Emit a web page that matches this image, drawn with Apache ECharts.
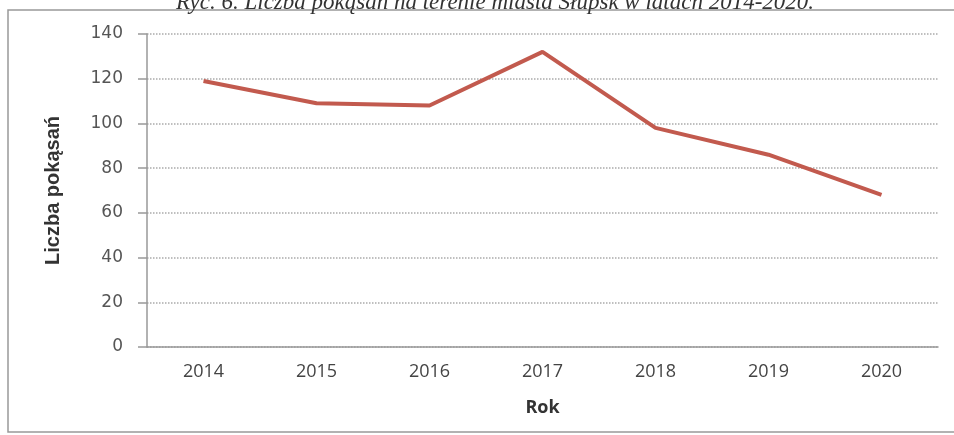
<!DOCTYPE html>
<html>
<head>
<meta charset="utf-8">
<script src="https://cdn.jsdelivr.net/npm/echarts@6/dist/echarts.min.js"></script>
<style>
  html, body { margin: 0; padding: 0; background: #fff; }
  #chart { width: 954px; height: 435px; }
</style>
</head>
<body>
<div id="chart"></div>
<script>
// dane z wykresu
const years = ['2014', '2015', '2016', '2017', '2018', '2019', '2020'];
const bites = [119, 109, 108, 132, 98, 86, 68];
const yTicks = [0, 20, 40, 60, 80, 100, 120, 140];

const chart = echarts.init(document.getElementById('chart'));

const option = {
    backgroundColor: '#fff',
    animation: false,
    title: {
        text: 'Ryc. 6. Liczba pokąsań na terenie miasta Słupsk w latach 2014-2020.',
        left: 490,
        textAlign: 'center',
        top: -14,
        textStyle: {
            fontFamily: 'Liberation Serif',
            fontStyle: 'italic',
            fontWeight: 'normal',
            fontSize: 23,
            color: '#333'
        }
    },
    graphic: [
        // ramka wykresu
        {
            type: 'rect',
            shape: { x: 8, y: 10, width: 960, height: 422 },
            style: { fill: 'none', stroke: '#999', lineWidth: 1.5 },
            silent: true
        }
    ],
    grid: {
        left: 147,
        right: 16,
        top: 34,
        bottom: 88
    },
    xAxis: {
        type: 'category',
        data: years,
        boundaryGap: true,
        name: 'Rok',
        nameLocation: 'middle',
        nameGap: 52,
        nameTextStyle: {
            fontFamily: 'Open Sans',
            fontWeight: 'bold',
            fontSize: 18,
            color: '#333'
        },
        axisLine: { lineStyle: { color: '#999', width: 1.5 } },
        axisTick: { show: false },
        axisLabel: {
            margin: 16,
            fontFamily: 'Open Sans',
            fontSize: 18,
            color: '#444'
        }
    },
    yAxis: {
        type: 'value',
        min: yTicks[0],
        max: yTicks[yTicks.length - 1],
        interval: 20,
        name: 'Liczba pokąsań',
        nameLocation: 'middle',
        nameGap: 84,
        nameTextStyle: {
            fontFamily: 'Liberation Sans Narrow, Liberation Sans',
            fontWeight: 'bold',
            fontSize: 20,
            color: '#333'
        },
        axisLine: { show: true, lineStyle: { color: '#999', width: 1.5 } },
        axisTick: { show: true, length: 9, inside: false, lineStyle: { color: '#999', width: 1.5 } },
        axisLabel: {
            margin: 24,
            fontFamily: 'DejaVu Sans',
            fontSize: 17,
            color: '#555'
        },
        splitLine: { lineStyle: { color: '#aaa', width: 1.5, type: 'dotted' } }
    },
    series: [
        {
            type: 'line',
            data: bites,
            symbol: 'none',
            lineStyle: { color: '#c25a4e', width: 4 }
        }
    ]
};

chart.setOption(option);
</script>
</body>
</html>
